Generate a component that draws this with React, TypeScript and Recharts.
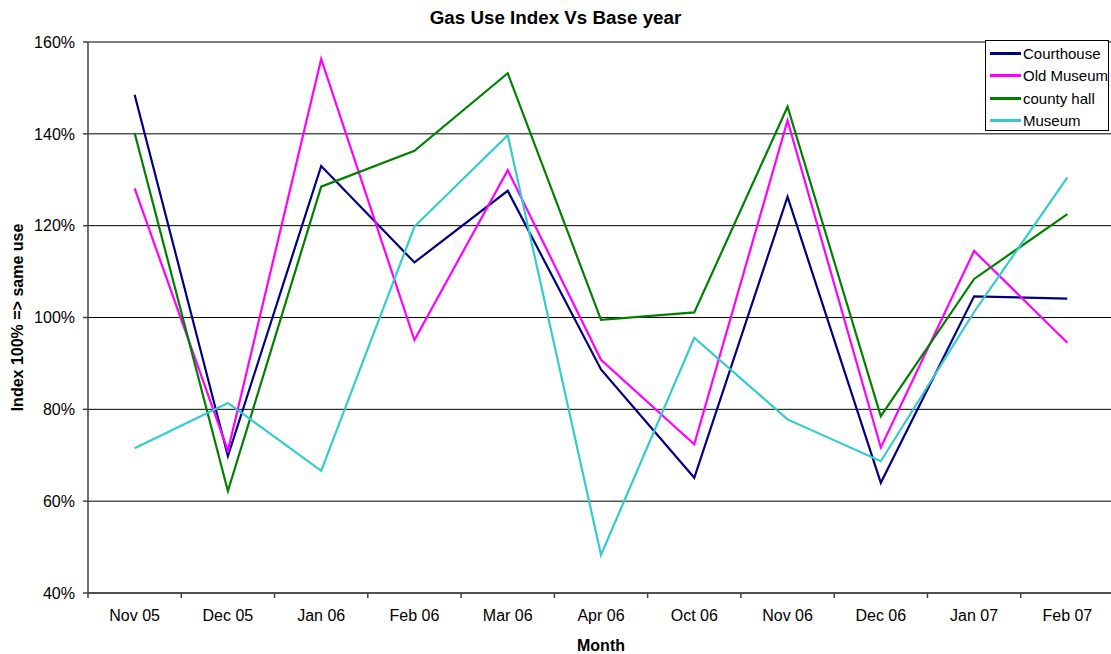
import { CartesianGrid, Line, LineChart, XAxis, YAxis } from 'recharts';

const months = ['Nov 05', 'Dec 05', 'Jan 06', 'Feb 06', 'Mar 06', 'Apr 06', 'Oct 06', 'Nov 06', 'Dec 06', 'Jan 07', 'Feb 07'];
const courthouse = [148.5, 69.8, 133.0, 112.0, 127.6, 88.7, 65.1, 126.3, 64.0, 104.6, 104.1];
const oldMuseum = [128.1, 71.0, 156.3, 95.1, 132.1, 90.8, 72.4, 142.9, 71.7, 114.5, 94.5];
const countyHall = [140.2, 62.2, 128.5, 136.3, 153.2, 99.5, 101.1, 145.9, 78.5, 108.4, 122.5];
const museum = [71.5, 81.4, 66.6, 119.8, 139.7, 48.3, 95.6, 77.8, 68.7, 101.2, 130.5];
const yTicks = [40, 60, 80, 100, 120, 140, 160];

const series = [
  { key: 'courthouse', name: 'Courthouse', color: '#000080', values: courthouse },
  { key: 'oldMuseum', name: 'Old Museum', color: '#FF00FF', values: oldMuseum },
  { key: 'countyHall', name: 'county hall', color: '#008000', values: countyHall },
  { key: 'museum', name: 'Museum', color: '#33CCCC', values: museum },
];

const data = months.map((m, i) => {
  const row: Record<string, string | number> = { month: m };
  series.forEach((s) => (row[s.key] = s.values[i]));
  return row;
});

const FONT = '"Liberation Sans", Arial, sans-serif';
const W = 1114;
const H = 654;
const TICK_SIZE = 5;
const TICK_MARGIN = 12;
const HALF_BAND = 46.64;

function MonthTick(props: any) {
  const { x, y, payload, index } = props;
  const axisY = y - TICK_SIZE - TICK_MARGIN;
  return (
    <g>
      <line x1={x - HALF_BAND} x2={x - HALF_BAND} y1={axisY} y2={axisY + TICK_SIZE} stroke="#404040" strokeWidth={1.5} />
      {index === months.length - 1 && (
        <line x1={x + HALF_BAND} x2={x + HALF_BAND} y1={axisY} y2={axisY + TICK_SIZE} stroke="#404040" strokeWidth={1.5} />
      )}
      <text x={x} y={y} dy="0.71em" textAnchor="middle" fontSize={16} fill="#000" fontFamily={FONT}>
        {payload.value}
      </text>
    </g>
  );
}

export default function App() {
  return (
    <div style={{ position: 'absolute', left: 0, top: 0, width: 1111, height: 654, overflow: 'hidden', background: '#fff', fontFamily: FONT }}>
      <div
        style={{
          position: 'absolute',
          top: 7.5,
          left: 0,
          width: 1111,
          textAlign: 'center',
          fontSize: 18.8,
          lineHeight: '20px',
          fontWeight: 'bold',
          color: '#000',
        }}
      >
        Gas Use Index Vs Base year
      </div>
      <LineChart width={W} height={H} data={data} margin={{ top: 42, right: 0, left: 0, bottom: 0 }}>
        <CartesianGrid vertical={false} stroke="#000" strokeWidth={1} />
        <XAxis
          dataKey="month"
          height={61}
          padding={{ left: HALF_BAND, right: HALF_BAND }}
          tickLine={false}
          tickSize={TICK_SIZE}
          tickMargin={TICK_MARGIN}
          interval={0}
          axisLine={{ stroke: '#404040', strokeWidth: 1.5 }}
          tick={<MonthTick />}
          label={{
            content: ({ viewBox }: any) => (
              <text
                x={viewBox.x + viewBox.width / 2}
                y={viewBox.y + viewBox.height - 3}
                textAnchor="middle"
                fontSize={16}
                fontWeight="bold"
                fill="#000"
                fontFamily={FONT}
              >
                Month
              </text>
            ),
          }}
        />
        <YAxis
          width={88}
          domain={[40, 160]}
          ticks={yTicks}
          tickFormatter={(v) => `${v}%`}
          tickSize={TICK_SIZE}
          tickMargin={8}
          tick={{ fontSize: 16, fill: '#000', fontFamily: FONT }}
          tickLine={{ stroke: '#404040', strokeWidth: 1.5 }}
          axisLine={{ stroke: '#404040', strokeWidth: 1.5 }}
          label={{
            content: ({ viewBox }: any) => {
              const cx = viewBox.x + 17;
              const cy = viewBox.y + viewBox.height / 2;
              return (
                <text
                  x={cx}
                  y={cy}
                  transform={`rotate(-90, ${cx}, ${cy})`}
                  textAnchor="middle"
                  dominantBaseline="central"
                  fontSize={16}
                  fontWeight="bold"
                  fill="#000"
                  fontFamily={FONT}
                >
                  Index 100% =&gt; same use
                </text>
              );
            },
          }}
        />
        {series.map((s) => (
          <Line
            key={s.key}
            type="linear"
            dataKey={s.key}
            name={s.name}
            stroke={s.color}
            strokeWidth={2.2}
            dot={false}
            activeDot={false}
            isAnimationActive={false}
          />
        ))}
      </LineChart>
      <div
        style={{
          position: 'absolute',
          left: 985,
          top: 40,
          width: 124,
          height: 91,
          border: '1px solid #000',
          background: '#fff',
          paddingTop: 1,
          boxSizing: 'border-box',
        }}
      >
        {series.map((s) => (
          <div key={s.key} style={{ display: 'flex', alignItems: 'center', height: 22.5 }}>
            <div style={{ width: 31, height: 3, background: s.color, marginLeft: 4, marginRight: 2 }} />
            <span style={{ fontSize: 15, color: '#000', whiteSpace: 'nowrap' }}>{s.name}</span>
          </div>
        ))}
      </div>
    </div>
  );
}
